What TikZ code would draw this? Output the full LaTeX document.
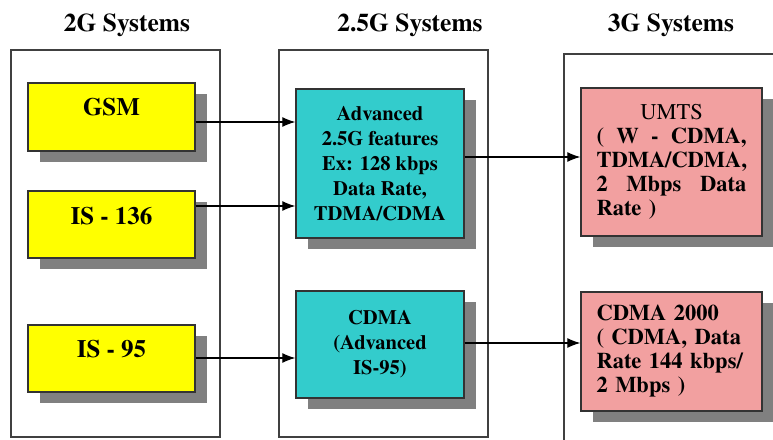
\documentclass[tikz,border=0pt]{standalone}
\usepackage{fontspec}
\setmainfont{texgyretermes}[Extension=.otf, UprightFont=*-regular, BoldFont=*-bold]
\usetikzlibrary{shadows,arrows.meta}
\pgfdeclarelayer{bg}
\pgfsetlayers{bg,main}
\definecolor{yel}{HTML}{FFFF00}
\definecolor{cya}{HTML}{33CCCC}
\definecolor{pnk}{HTML}{F2A0A0}
\definecolor{shd}{HTML}{808080}
\definecolor{edge}{HTML}{333333}
\definecolor{frm}{HTML}{404040}
\tikzset{
  frame/.style={draw=frm, line width=1.3pt},
  box/.style={draw=edge, line width=1.3pt, inner sep=0pt, text=black,
    drop shadow={shadow xshift=12pt, shadow yshift=-11pt, fill=shd, opacity=1}},
  ybox/.style={box, fill=yel, minimum width=167pt, minimum height=68pt},
  cbox/.style={box, fill=cya, minimum width=168pt, align=center,
    font=\fontsize{20.5}{25}\selectfont\bfseries},
  pbox/.style={box, fill=pnk, minimum width=181pt, text width=150pt, align=left,
    font=\fontsize{22.5}{24}\selectfont\bfseries},
  ytext/.style={anchor=base, inner sep=0pt, font=\fontsize{25}{30}\selectfont\bfseries},
  title/.style={anchor=base, inner sep=0pt, font=\fontsize{25.5}{30}\selectfont\bfseries},
  arr/.style={draw=black, line width=1.2pt, -{Latex[length=13pt,width=10pt]}}
}
\begin{document}
\begin{tikzpicture}[x=1pt,y=-1pt]
\useasboundingbox (0,0) rectangle (773,439);
% titles
\node[title] (t2) at (127,31) {2G Systems};
\node[title] (t25) at (410,31) {2.5G Systems};
\node[title] (t3) at (671,31) {3G Systems};
% frames
\begin{pgfonlayer}{bg}
\node[frame, inner sep=0pt, minimum width=209pt, minimum height=387pt] (f2) at (115.5,243.5) {};
\node[frame, inner sep=0pt, minimum width=209pt, minimum height=387pt] (f25) at (383.5,243.5) {};
\draw[frame] (564,445) -- (564,54) -- (780,54);
\end{pgfonlayer}
% 2G boxes
\node[ybox] (gsm) at (111.5,117) {};
\node[ytext] (gsmt) at (111.5,115) {GSM};
\node[ybox, minimum height=67pt] (is136) at (111.5,224.5) {};
\node[ytext] (is136t) at (111.5,224) {IS - 136};
\node[ybox, minimum height=67pt] (is95) at (111.5,358.5) {};
\node[ytext] (is95t) at (111.5,357) {IS - 95};
% 2.5G boxes
\node[cbox, minimum height=149pt] (adv) at (380,163.5)
  {Advanced\\2.5G features\\Ex: 128 kbps\\Data Rate,\\TDMA/CDMA};
\node[cbox, minimum height=107pt] (cdma) at (380,344.5)
  {CDMA\\(Advanced\\IS-95)};
% 3G boxes
\node[pbox, minimum height=148pt] (umts) at (671.5,162)
  {\makebox[150pt]{\mdseries UMTS}\\
   \makebox[150pt]{(\hfill W\hfill -\hfill CDMA,}\\
   TDMA/CDMA,\\
   \makebox[150pt]{2\hfill Mbps\hfill Data}\\
   Rate )};
\node[pbox, minimum height=119pt] (c2000) at (671.5,351.5)
  {CDMA 2000\\( CDMA, Data\\Rate 144 kbps/\\2 Mbps )};
% arrows
\draw[arr] (gsm.east |- 0,122) -- (adv.west |- 0,122);
\draw[arr] (is136.east |- 0,206) -- (adv.west |- 0,206);
\draw[arr] (is95.east |- 0,358) -- (cdma.west |- 0,358);
\draw[arr] (adv.east |- 0,157) -- (umts.west |- 0,157);
\draw[arr] (cdma.east |- 0,343) -- (c2000.west |- 0,343);
\end{tikzpicture}
\end{document}
